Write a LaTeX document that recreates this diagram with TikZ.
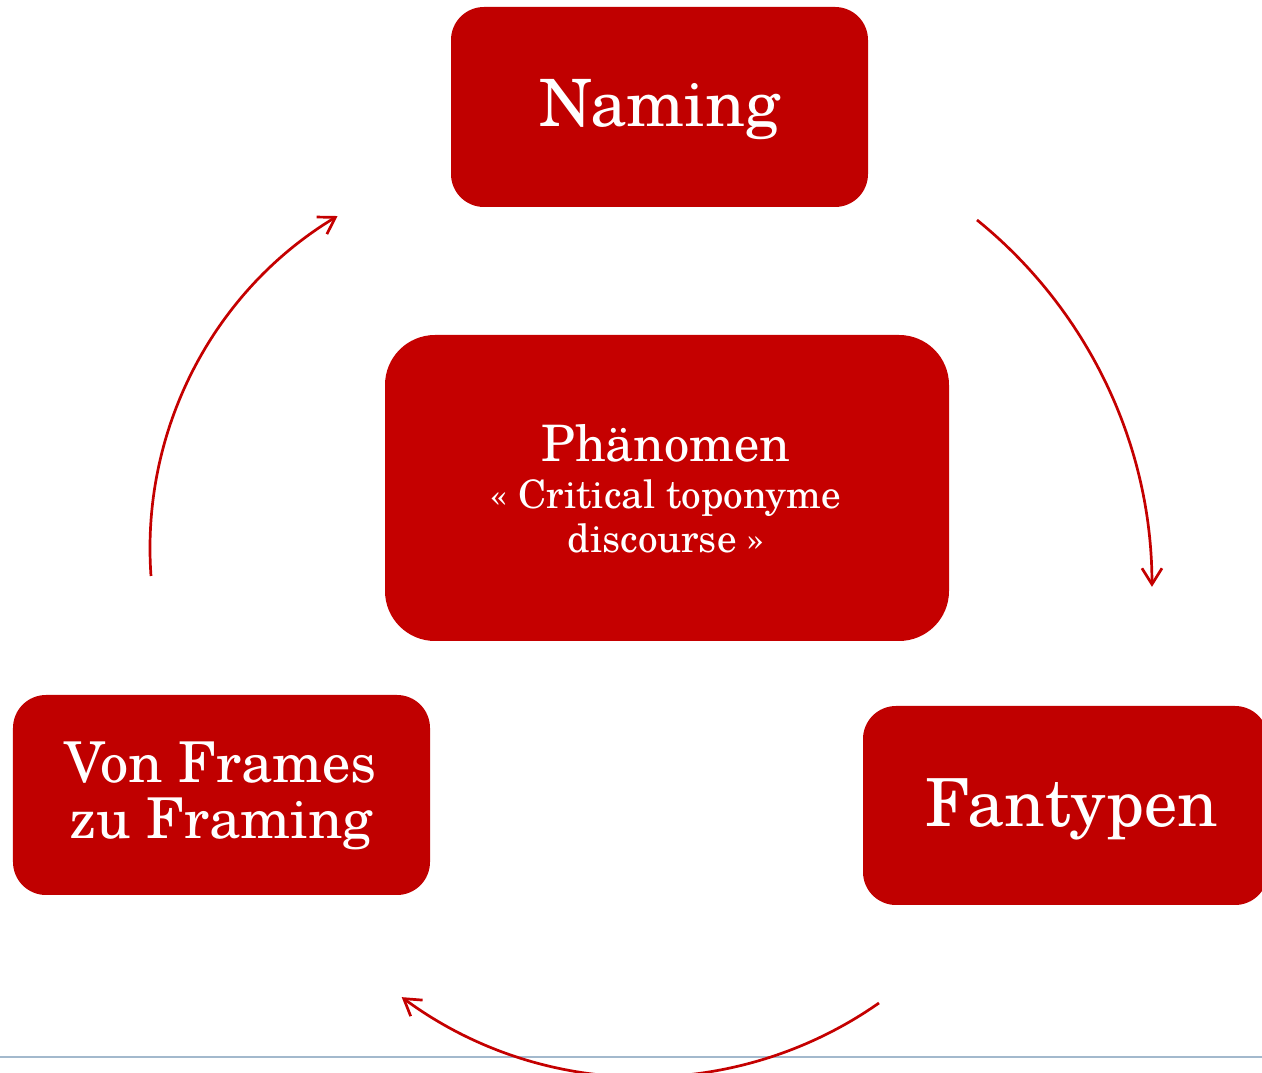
\documentclass[tikz,border=0pt]{standalone}
\usepackage{fontspec}
\setmainfont{TeX Gyre Schola}
\usetikzlibrary{arrows.meta}
\definecolor{boxred}{HTML}{C00000}
\definecolor{midred}{HTML}{C50000}
\definecolor{arrowred}{HTML}{C40000}
\definecolor{rulecol}{HTML}{A3B9CD}
\begin{document}
\begin{tikzpicture}[x=1bp,y=1bp,
  cbox/.style={fill=boxred, draw=none, rounded corners=33bp, inner sep=0pt},
  lbl/.style={text=white, anchor=base, inner sep=0pt},
  cyc/.style={draw=arrowred, line width=2.7bp, -{Straight Barb[length=16bp,width=20bp]}}]
\useasboundingbox (0,0) rectangle (1262,1073);
\clip (0,0) rectangle (1262,1073);
% bottom rule
\coordinate (ruleL) at (0,16);
\coordinate (ruleR) at (1262,16);
\draw[rulecol, line width=2bp] (ruleL) -- (ruleR);
% boxes
\node[cbox, minimum width=417bp, minimum height=200bp] (naming) at (659.5,966) {};
\node[cbox, fill=midred, rounded corners=50bp, minimum width=564bp, minimum height=306bp] (center) at (667,585) {};
\node[cbox, minimum width=417bp, minimum height=200bp] (frames) at (221.5,278) {};
\node[cbox, minimum width=405bp, minimum height=199bp] (fantypen) at (1065.5,267.5) {};
% texts
\node[lbl, font=\fontsize{65.5}{78}\selectfont] (namingt) at (660,946) {Naming};
\node[lbl, font=\fontsize{50.5}{60}\selectfont] (phaen) at (666,611) {Phänomen};
\node[lbl, font=\fontsize{39.3}{46}\selectfont] (crit) at (666,564) {« Critical toponyme};
\node[lbl, font=\fontsize{39.3}{46}\selectfont] (disc) at (666,520) {discourse »};
\node[lbl, font=\fontsize{56.5}{66}\selectfont] (von) at (220.5,290) {Von Frames};
\node[lbl, font=\fontsize{56.5}{66}\selectfont] (zu) at (221,234) {zu Framing};
\node[lbl, font=\fontsize{66.5}{78}\selectfont] (fant) at (1072,246) {Fantypen};
% cycle arrows
\coordinate (a1s) at (977,853);
\coordinate (a2s) at (879,70);
\coordinate (a3s) at (151,497);
\draw[cyc] (a1s) arc[start angle=51, end angle=0, radius=472];
\draw[cyc] (a2s) arc[start angle=305, end angle=233.6, radius=409];
\draw[cyc] (a3s) arc[start angle=184.1, end angle=121.1, radius=388];
\end{tikzpicture}
\end{document}
